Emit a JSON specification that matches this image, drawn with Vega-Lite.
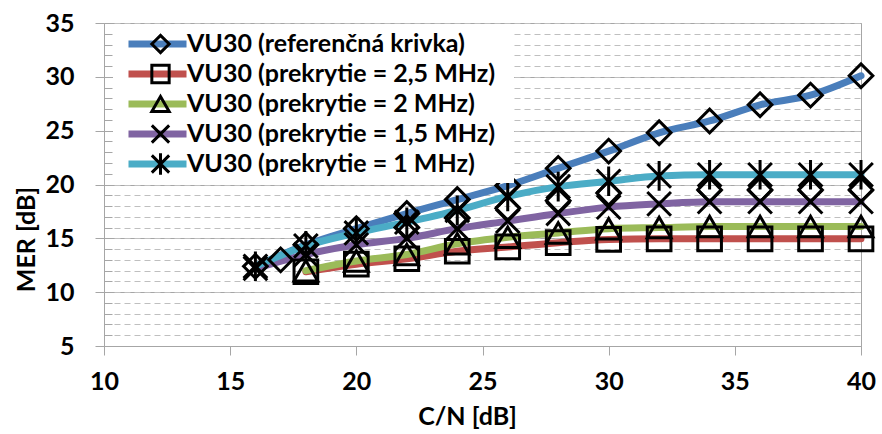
{
  "$schema": "https://vega.github.io/schema/vega-lite/v6.json",
  "width": 757,
  "height": 323,
  "autosize": "none",
  "padding": {"left": 104, "top": 23, "right": 21, "bottom": 88},
  "background": "white",
  "config": {"view": {"stroke": "#a6a6a6", "strokeWidth": 1}, "font": "Lato"},
  "datasets": {
    "pts": [
      {"cn": 16, "mer": 12.4, "s": "VU30 (referenčná krivka)"},
      {"cn": 18, "mer": 14.4, "s": "VU30 (referenčná krivka)"},
      {"cn": 20, "mer": 15.9, "s": "VU30 (referenčná krivka)"},
      {"cn": 22, "mer": 17.3, "s": "VU30 (referenčná krivka)"},
      {"cn": 24, "mer": 18.6, "s": "VU30 (referenčná krivka)"},
      {"cn": 26, "mer": 19.9, "s": "VU30 (referenčná krivka)"},
      {"cn": 28, "mer": 21.5, "s": "VU30 (referenčná krivka)"},
      {"cn": 30, "mer": 23.1, "s": "VU30 (referenčná krivka)"},
      {"cn": 32, "mer": 24.8, "s": "VU30 (referenčná krivka)"},
      {"cn": 34, "mer": 25.9, "s": "VU30 (referenčná krivka)"},
      {"cn": 36, "mer": 27.4, "s": "VU30 (referenčná krivka)"},
      {"cn": 38, "mer": 28.3, "s": "VU30 (referenčná krivka)"},
      {"cn": 40, "mer": 30.1, "s": "VU30 (referenčná krivka)"},
      {"cn": 18, "mer": 11.9, "s": "VU30 (prekrytie = 2,5 MHz)"},
      {"cn": 20, "mer": 12.6, "s": "VU30 (prekrytie = 2,5 MHz)"},
      {"cn": 22, "mer": 13.1, "s": "VU30 (prekrytie = 2,5 MHz)"},
      {"cn": 24, "mer": 13.8, "s": "VU30 (prekrytie = 2,5 MHz)"},
      {"cn": 26, "mer": 14.2, "s": "VU30 (prekrytie = 2,5 MHz)"},
      {"cn": 28, "mer": 14.6, "s": "VU30 (prekrytie = 2,5 MHz)"},
      {"cn": 30, "mer": 14.9, "s": "VU30 (prekrytie = 2,5 MHz)"},
      {"cn": 32, "mer": 14.95, "s": "VU30 (prekrytie = 2,5 MHz)"},
      {"cn": 34, "mer": 14.95, "s": "VU30 (prekrytie = 2,5 MHz)"},
      {"cn": 36, "mer": 14.95, "s": "VU30 (prekrytie = 2,5 MHz)"},
      {"cn": 38, "mer": 14.95, "s": "VU30 (prekrytie = 2,5 MHz)"},
      {"cn": 40, "mer": 14.95, "s": "VU30 (prekrytie = 2,5 MHz)"},
      {"cn": 18, "mer": 12.0, "s": "VU30 (prekrytie = 2 MHz)"},
      {"cn": 20, "mer": 12.9, "s": "VU30 (prekrytie = 2 MHz)"},
      {"cn": 22, "mer": 13.5, "s": "VU30 (prekrytie = 2 MHz)"},
      {"cn": 24, "mer": 14.5, "s": "VU30 (prekrytie = 2 MHz)"},
      {"cn": 26, "mer": 15.1, "s": "VU30 (prekrytie = 2 MHz)"},
      {"cn": 28, "mer": 15.5, "s": "VU30 (prekrytie = 2 MHz)"},
      {"cn": 30, "mer": 15.9, "s": "VU30 (prekrytie = 2 MHz)"},
      {"cn": 32, "mer": 16.0, "s": "VU30 (prekrytie = 2 MHz)"},
      {"cn": 34, "mer": 16.1, "s": "VU30 (prekrytie = 2 MHz)"},
      {"cn": 36, "mer": 16.1, "s": "VU30 (prekrytie = 2 MHz)"},
      {"cn": 38, "mer": 16.1, "s": "VU30 (prekrytie = 2 MHz)"},
      {"cn": 40, "mer": 16.1, "s": "VU30 (prekrytie = 2 MHz)"},
      {"cn": 16, "mer": 12.2, "s": "VU30 (prekrytie = 1,5 MHz)"},
      {"cn": 18, "mer": 13.5, "s": "VU30 (prekrytie = 1,5 MHz)"},
      {"cn": 20, "mer": 14.4, "s": "VU30 (prekrytie = 1,5 MHz)"},
      {"cn": 22, "mer": 15.0, "s": "VU30 (prekrytie = 1,5 MHz)"},
      {"cn": 24, "mer": 15.9, "s": "VU30 (prekrytie = 1,5 MHz)"},
      {"cn": 26, "mer": 16.6, "s": "VU30 (prekrytie = 1,5 MHz)"},
      {"cn": 28, "mer": 17.3, "s": "VU30 (prekrytie = 1,5 MHz)"},
      {"cn": 30, "mer": 17.9, "s": "VU30 (prekrytie = 1,5 MHz)"},
      {"cn": 32, "mer": 18.2, "s": "VU30 (prekrytie = 1,5 MHz)"},
      {"cn": 34, "mer": 18.4, "s": "VU30 (prekrytie = 1,5 MHz)"},
      {"cn": 36, "mer": 18.4, "s": "VU30 (prekrytie = 1,5 MHz)"},
      {"cn": 38, "mer": 18.4, "s": "VU30 (prekrytie = 1,5 MHz)"},
      {"cn": 40, "mer": 18.4, "s": "VU30 (prekrytie = 1,5 MHz)"},
      {"cn": 16, "mer": 12.4, "s": "VU30 (prekrytie = 1 MHz)"},
      {"cn": 18, "mer": 14.3, "s": "VU30 (prekrytie = 1 MHz)"},
      {"cn": 20, "mer": 15.5, "s": "VU30 (prekrytie = 1 MHz)"},
      {"cn": 22, "mer": 16.5, "s": "VU30 (prekrytie = 1 MHz)"},
      {"cn": 24, "mer": 17.6, "s": "VU30 (prekrytie = 1 MHz)"},
      {"cn": 26, "mer": 18.9, "s": "VU30 (prekrytie = 1 MHz)"},
      {"cn": 28, "mer": 19.8, "s": "VU30 (prekrytie = 1 MHz)"},
      {"cn": 30, "mer": 20.3, "s": "VU30 (prekrytie = 1 MHz)"},
      {"cn": 32, "mer": 20.8, "s": "VU30 (prekrytie = 1 MHz)"},
      {"cn": 34, "mer": 20.9, "s": "VU30 (prekrytie = 1 MHz)"},
      {"cn": 36, "mer": 20.9, "s": "VU30 (prekrytie = 1 MHz)"},
      {"cn": 38, "mer": 20.9, "s": "VU30 (prekrytie = 1 MHz)"},
      {"cn": 40, "mer": 20.9, "s": "VU30 (prekrytie = 1 MHz)"},
      {"cn": 17, "mer": 13.0, "s": "extra"},
      {"cn": 22, "mer": 16.0, "s": "extra"},
      {"cn": 24, "mer": 16.9, "s": "extra"},
      {"cn": 26, "mer": 17.8, "s": "extra"},
      {"cn": 28, "mer": 18.5, "s": "extra"},
      {"cn": 30, "mer": 19.2, "s": "extra"},
      {"cn": 34, "mer": 19.5, "s": "extra"},
      {"cn": 36, "mer": 19.5, "s": "extra"},
      {"cn": 38, "mer": 19.5, "s": "extra"},
      {"cn": 40, "mer": 19.5, "s": "extra"}
    ]
  },
  "data": {"name": "pts"},
  "layer": [
    {
      "transform": [{"filter": "datum.s !== 'extra'"}],
      "mark": {"type": "line", "strokeWidth": 7, "interpolate": "monotone", "strokeCap": "round"},
      "encoding": {
        "x": {
          "field": "cn", "type": "quantitative",
          "scale": {"domain": [10, 40], "nice": false, "zero": false},
          "axis": {
            "values": [10, 15, 20, 25, 30, 35, 40], "grid": false,
            "tickSize": 9, "tickColor": "#a6a6a6", "domainColor": "#a6a6a6",
            "labelFont": "Lato", "labelFontWeight": "bold", "labelFontSize": 25, "labelColor": "black",
            "labelPadding": 14, "labelFlush": false,
            "title": "C/N [dB]", "titleFont": "Lato", "titleFontWeight": "bold", "titleFontSize": 25, "titleColor": "black",
            "titleX": 363, "titleY": 78, "titleBaseline": "alphabetic", "titleAlign": "center"
          }
        },
        "y": {
          "field": "mer", "type": "quantitative",
          "scale": {"domain": [5, 35], "nice": false, "zero": false},
          "axis": {
            "values": [5, 10, 15, 20, 25, 30, 35], "grid": true, "gridColor": "#a6a6a6", "gridWidth": 1,
            "tickSize": 9, "tickColor": "#a6a6a6", "domainColor": "#a6a6a6",
            "labelFont": "Lato", "labelFontWeight": "bold", "labelFontSize": 25, "labelColor": "black",
            "labelPadding": 21,
            "title": "MER [dB]", "titleFont": "Lato", "titleFontWeight": "bold", "titleFontSize": 25, "titleColor": "black",
            "titleX": -78, "titleY": 216, "titleBaseline": "middle", "titleAlign": "center", "titleAngle": -90
          }
        },
        "color": {
          "field": "s", "type": "nominal",
          "scale": {
            "domain": ["VU30 (referenčná krivka)", "VU30 (prekrytie = 2,5 MHz)", "VU30 (prekrytie = 2 MHz)", "VU30 (prekrytie = 1,5 MHz)", "VU30 (prekrytie = 1 MHz)"],
            "range": ["#4a7ebb", "#c0504d", "#9bbb59", "#8064a2", "#4bacc6"]
          },
          "legend": {
            "orient": "none", "legendX": 9, "legendY": 2, "title": null,
            "symbolType": "M-0.784,0L0.784,0", "symbolSize": 5476, "symbolStrokeWidth": 7,
            "labelExpr": "''", "labelFontSize": 21,
            "labelOffset": 312, "fillColor": "white", "padding": 4, "clipHeight": 30, "rowPadding": 0, "zindex": 1
          }
        }
      }
    },
    {
      "mark": {"type": "point", "filled": false, "color": "black", "strokeWidth": 3, "size": 560, "opacity": 1},
      "encoding": {
        "x": {"field": "cn", "type": "quantitative"},
        "y": {
          "field": "mer", "type": "quantitative",
          "axis": {
            "orient": "left",
            "values": [5, 6, 7, 8, 9, 10, 11, 12, 13, 14, 15, 16, 17, 18, 19, 20, 21, 22, 23, 24, 25, 26, 27, 28, 29, 30, 31, 32, 33, 34, 35],
            "grid": true, "gridColor": "#bfbfbf", "gridDash": [6, 4], "gridWidth": 1,
            "tickSize": -8, "tickColor": "#a6a6a6", "domain": false, "labels": false, "title": null
          }
        },
        "shape": {
          "field": "s", "type": "nominal",
          "scale": {
            "domain": ["VU30 (referenčná krivka)", "VU30 (prekrytie = 2,5 MHz)", "VU30 (prekrytie = 2 MHz)", "VU30 (prekrytie = 1,5 MHz)", "VU30 (prekrytie = 1 MHz)", "extra"],
            "range": ["diamond", "square", "triangle-up", "M-1,-1L1,1M-1,1L1,-1", "M-1,-1L1,1M-1,1L1,-1M0,-1.25L0,1.25", "diamond"]
          },
          "legend": {
            "orient": "none", "legendX": 40, "legendY": 2, "title": null,
            "values": ["VU30 (referenčná krivka)", "VU30 (prekrytie = 2,5 MHz)", "VU30 (prekrytie = 2 MHz)", "VU30 (prekrytie = 1,5 MHz)", "VU30 (prekrytie = 1 MHz)"],
            "symbolSize": 300, "symbolStrokeColor": "black", "symbolFillColor": "transparent", "symbolStrokeWidth": 3,
            "labelFont": "Lato", "labelFontWeight": "bold", "labelFontSize": 25, "labelColor": "black", "labelLimit": 0,
            "labelOffset": 14, "padding": 4, "clipHeight": 30, "rowPadding": 0, "zindex": 2
          }
        }
      }
    }
  ],
  "resolve": {"axis": {"y": "independent"}}
}
